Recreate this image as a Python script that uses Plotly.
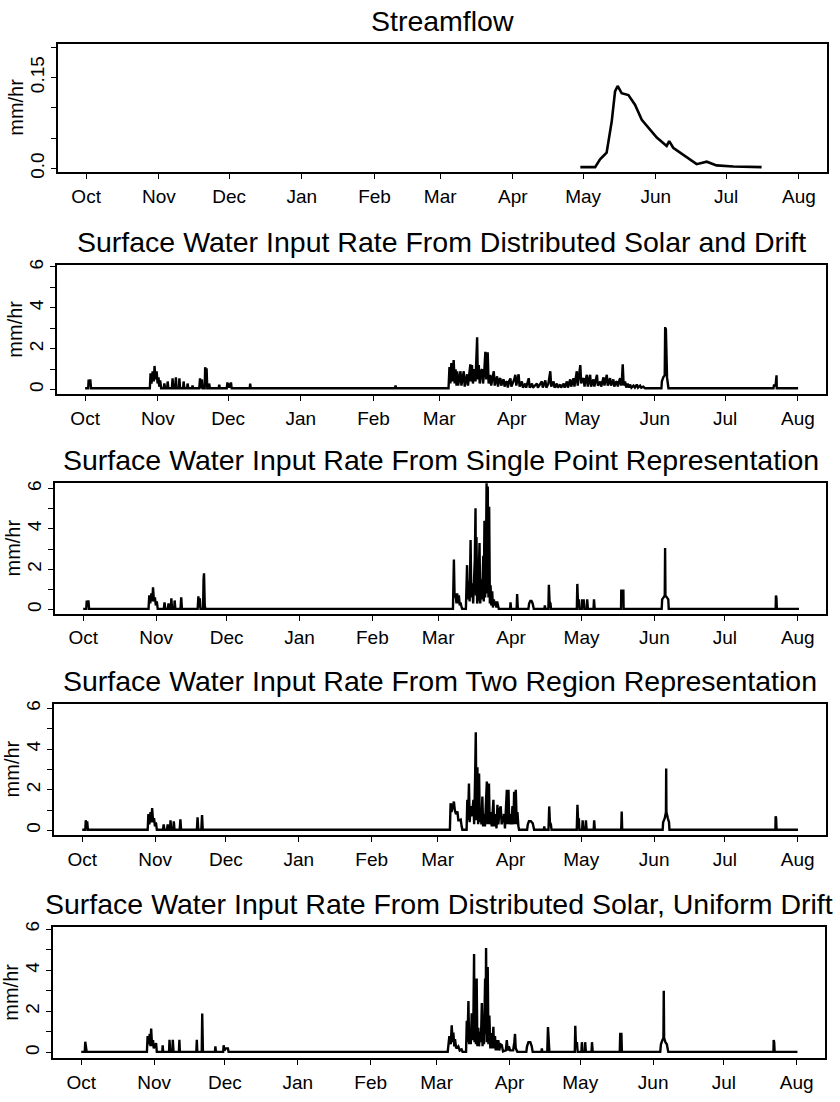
import plotly.graph_objects as go
import pandas as pd

# ---------------- data ----------------
month_labels = ["Oct", "Nov", "Dec", "Jan", "Feb", "Mar", "Apr", "May", "Jun", "Jul", "Aug"]
month_starts = ["1993-10-01", "1993-11-01", "1993-12-01", "1994-01-01", "1994-02-01",
                "1994-03-01", "1994-04-01", "1994-05-01", "1994-06-01", "1994-07-01",
                "1994-08-01"]
start_date = "1993-10-01"

panel_titles = [
    "Streamflow",
    "Surface Water Input Rate From Distributed Solar and Drift",
    "Surface Water Input Rate From Single Point Representation",
    "Surface Water Input Rate From Two Region Representation",
    "Surface Water Input Rate From Distributed Solar, Uniform Drift",
]
y_label = "mm/hr"

flow_ticks = [0, 0.05, 0.10, 0.15, 0.20]
flow_tick_text = ["0.0", "", "", "0.15", ""]
swi_ticks = [0, 1, 2, 3, 4, 5, 6]
swi_tick_text = ["0", "", "2", "", "4", "", "6"]

# day offsets from 1 Oct, and values (mm/hr)
flow_day = [210.8, 217.1, 219.2, 222.0, 224.2, 225.6, 226.7, 228.4, 231.3, 234.1, 237.0,
            240.5, 243.4, 247.6, 248.7, 250.4, 254.7, 260.4, 264.7, 268.9, 276.0, 288.1]
flow_rate = [0.002, 0.002, 0.015, 0.026, 0.078, 0.127, 0.136, 0.124, 0.121, 0.105, 0.080,
             0.064, 0.051, 0.037, 0.045, 0.034, 0.023, 0.007, 0.011, 0.005, 0.003, 0.002]

dist_day = [0, 1.3, 1.5, 1.9, 2.2, 2.5,
            27.6, 27.9, 28.3, 28.8, 29.3, 29.6, 30.0, 30.5, 30.9, 31.3, 31.6, 32.0, 32.4,
            33.5, 33.8, 34.1, 35.0, 35.2, 35.5, 37.0, 37.3, 37.6, 38.4, 38.7, 39.0,
            40.0, 40.2, 40.5, 41.8, 42.0, 42.3, 43.5, 43.7, 44.0, 45.6, 45.8, 46.1,
            48.7, 49.0, 49.4, 49.6, 49.8, 50.1, 51.0, 51.2, 51.5, 51.8, 52.1,
            52.7, 52.9, 53.2, 57.0, 57.2, 57.4, 60.4, 60.7, 61.0, 61.4, 61.8, 62.2, 62.5,
            70.2, 70.4, 70.6, 88.6, 88.8, 89.0, 132.2, 132.4, 132.6,
            155.0, 155.4, 155.8, 156.2, 156.6, 157.2, 157.6, 158.0, 158.4, 158.7, 159.1,
            159.6, 160.1, 160.5, 161.0, 161.5, 161.9, 162.4, 162.9, 163.3, 163.8, 164.3,
            164.6, 165.0, 165.4, 166.0, 166.5, 167.2, 167.5, 167.9, 168.3, 168.8, 169.3,
            169.7, 170.2, 170.7, 171.1, 171.7, 172.1, 172.8, 173.2, 173.8, 174.3, 174.7,
            175.2, 175.7, 176.1, 176.6, 177.1, 177.5, 178.0, 178.5, 178.9, 179.4, 179.9,
            180.3, 180.8, 181.4, 181.8, 182.4, 183.0, 183.5, 183.9, 184.4, 184.9, 185.3,
            185.8, 186.3, 186.7, 187.2, 187.7, 188.1, 188.7, 189.2, 189.6, 190.1, 190.6,
            191.0, 191.8, 192.7, 193.1, 193.8, 194.8, 195.2, 195.8, 196.3, 196.7, 197.6,
            198.4, 198.8, 199.3, 199.8, 200.2, 200.7, 201.2, 201.6, 202.1, 202.6, 203.0,
            203.6, 204.1, 204.5, 205.0, 205.5, 205.9, 206.4, 206.9, 207.3, 207.8, 208.3,
            208.7, 209.2, 209.7, 210.1, 210.6, 211.2, 211.6, 212.1, 212.6, 213.0, 213.5,
            214.0, 214.4, 214.9, 215.4, 215.8, 216.3, 216.8, 217.2, 217.8, 218.3, 218.7,
            219.2, 219.7, 220.1, 220.6, 221.1, 221.5, 222.0, 222.5, 222.9, 223.4, 223.9,
            224.3, 224.8, 225.3, 225.7, 226.3, 226.8, 227.2, 227.7, 228.2, 228.6, 229.0,
            229.3, 229.7, 230.3, 230.8, 231.4, 232.0, 232.4, 233.0, 233.9, 234.5, 235.3,
            235.8, 236.7, 237.2, 238.1, 238.8,
            245.8, 246.0, 246.6, 247.2, 247.4, 247.55, 247.7, 248.2, 248.6, 248.8,
            293.6, 293.8, 294.5, 294.6, 294.9, 295.0, 304.1]
dist_rate = [0.07, 0.07, 0.5, 0.3, 0.5, 0.07,
             0.07, 0.8, 0.3, 0.9, 0.4, 1.16, 0.5, 0.9, 0.3, 0.6, 0.15, 0.45, 0.07,
             0.07, 0.3, 0.07, 0.07, 0.4, 0.07, 0.07, 0.55, 0.07, 0.07, 0.6, 0.07,
             0.07, 0.55, 0.07, 0.07, 0.4, 0.07, 0.07, 0.3, 0.07, 0.07, 0.2, 0.07,
             0.07, 0.55, 0.07, 0.07, 0.5, 0.07, 0.07, 1.1, 0.3, 1.05, 0.07,
             0.07, 0.3, 0.07, 0.07, 0.25, 0.07, 0.07, 0.35, 0.1, 0.3, 0.1, 0.35, 0.07,
             0.07, 0.3, 0.07, 0.07, 0.1, 0.07, 0.07, 0.2, 0.07,
             0.07, 1.1, 0.3, 1.3, 0.4, 1.45, 0.3, 1.0, 0.2, 0.9, 0.2,
             0.7, 0.9, 0.2, 0.6, 0.9, 0.15, 0.5, 0.75, 0.2, 0.8, 1.24,
             0.4, 1.2, 0.3, 1.0, 0.4, 2.56, 0.5, 1.2, 0.3, 0.9, 1.0,
             0.3, 0.8, 1.85, 0.5, 1.83, 0.3, 0.73, 0.2, 0.6, 0.9, 0.2,
             0.5, 0.65, 0.15, 0.5, 0.56, 0.2, 0.4, 0.5, 0.15, 0.35, 0.4,
             0.1, 0.4, 0.55, 0.15, 0.3, 0.5, 0.73, 0.2, 0.5, 0.75, 0.15,
             0.3, 0.4, 0.1, 0.25, 0.3, 0.1, 0.4, 0.56, 0.1, 0.25, 0.3,
             0.1, 0.2, 0.3, 0.1, 0.25, 0.4, 0.1, 0.3, 0.45, 0.1, 0.3,
             0.9, 0.15, 0.3, 0.4, 0.1, 0.25, 0.3, 0.1, 0.2, 0.25, 0.1,
             0.2, 0.3, 0.1, 0.3, 0.4, 0.1, 0.35, 0.5, 0.15, 0.4, 0.56,
             0.15, 0.5, 0.9, 0.2, 0.6, 1.2, 0.3, 0.5, 0.56, 0.15, 0.5,
             0.73, 0.15, 0.5, 0.73, 0.15, 0.35, 0.5, 0.15, 0.5, 0.73, 0.2,
             0.3, 0.4, 0.15, 0.4, 0.6, 0.2, 0.5, 0.73, 0.2, 0.4, 0.56,
             0.2, 0.4, 0.5, 0.15, 0.35, 0.4, 0.15, 0.4, 0.56, 0.2, 0.6,
             1.24, 0.2, 0.4, 0.1, 0.3, 0.1, 0.25, 0.1, 0.2, 0.1, 0.25,
             0.1, 0.2, 0.1, 0.15, 0.07,
             0.07, 0.4, 0.6, 0.7, 3.06, 0.8, 3.0, 0.6, 0.3, 0.07,
             0.07, 0.2, 0.2, 0.7, 0.7, 0.07, 0.07]

single_day = [0, 1.3, 1.5, 1.9, 2.2, 2.5,
              27.8, 28.1, 28.5, 29.0, 29.4, 29.7, 30.1, 30.5, 30.9, 31.3, 31.7,
              34.3, 34.6, 34.9, 36.0, 36.3, 36.6, 37.3, 37.5, 37.8, 38.7, 38.9, 39.2,
              41.4, 41.7, 42.0, 48.7, 49.0, 49.3, 49.6, 49.9, 51.0, 51.2, 51.4, 51.7, 52.0,
              157.3, 157.7, 158.0, 158.4, 158.8, 159.1, 159.5, 159.8, 160.2, 160.5, 161.0,
              161.2, 162.8, 163.0, 163.3, 163.6, 164.0, 164.4, 164.8, 165.1, 165.5, 165.9,
              166.2, 166.6, 166.9, 167.1, 167.3, 167.6, 167.9, 168.2, 168.6, 168.9, 169.3,
              169.7, 170.2, 170.4, 170.7, 171.0, 171.3, 171.6, 171.9, 172.1, 172.4, 172.7,
              173.0, 173.3, 173.6, 174.0, 174.3, 174.7, 175.0, 175.4, 175.8, 176.1, 176.5,
              176.8, 181.6, 181.8, 182.0, 184.4, 184.6, 184.9, 189.4, 189.7, 190.2, 190.7,
              191.2, 191.7, 196.2, 196.4, 196.6, 197.9, 198.1, 198.4, 198.8, 199.0,
              210.0, 210.2, 210.5, 210.9, 211.1, 212.1, 212.3, 212.6, 212.9, 213.2,
              214.2, 214.4, 214.7, 217.1, 217.3, 217.6, 228.8, 228.9, 229.8, 229.9,
              246.1, 246.3, 246.9, 247.4, 247.55, 247.7, 248.3, 248.9, 249.1,
              294.6, 294.7, 294.9, 295.1, 304.5]
single_rate = [0.03, 0.03, 0.45, 0.2, 0.45, 0.03,
               0.03, 0.7, 0.3, 0.8, 0.4, 1.1, 0.4, 0.6, 0.2, 0.4, 0.03,
               0.03, 0.35, 0.03, 0.03, 0.3, 0.03, 0.03, 0.55, 0.03, 0.03, 0.45, 0.03,
               0.03, 0.6, 0.03, 0.03, 0.65, 0.1, 0.55, 0.03, 0.03, 1.5, 1.8, 0.2, 0.03,
               0.03, 2.48, 0.6, 0.8, 0.3, 0.8, 0.3, 0.7, 0.2, 0.35, 0.1,
               0.03, 0.03, 1.2, 2.2, 0.5, 1.4, 0.4, 3.45, 0.6, 1.3, 0.3,
               1.3, 2.5, 5.02, 0.7, 3.6, 0.3, 0.5, 1.5, 3.3, 0.3, 1.5,
               0.5, 2.66, 0.4, 4.4, 0.6, 2.0, 6.3, 0.8, 6.1, 0.6, 5.1,
               0.3, 1.2, 0.2, 0.9, 0.1, 0.5, 0.2, 0.4, 0.1, 0.4, 0.05,
               0.03, 0.03, 0.35, 0.03, 0.03, 0.77, 0.03, 0.03, 0.3, 0.43, 0.43,
               0.3, 0.03, 0.03, 0.2, 0.03, 0.03, 1.23, 0.4, 0.3, 0.03,
               0.03, 1.27, 0.3, 0.5, 0.03, 0.03, 0.5, 0.2, 0.5, 0.03,
               0.03, 0.5, 0.03, 0.03, 0.5, 0.03, 0.03, 0.93, 0.93, 0.03,
               0.03, 0.5, 0.6, 0.7, 3.05, 0.7, 0.6, 0.5, 0.03,
               0.03, 0.7, 0.6, 0.03, 0.03]

two_day = [0, 1.3, 1.5, 1.8, 2.1, 2.4,
           27.8, 28.1, 28.5, 29.0, 29.4, 29.7, 30.1, 30.5, 30.9, 31.3, 31.7,
           34.3, 34.6, 34.9, 36.0, 36.3, 36.6, 37.3, 37.5, 37.8, 38.7, 38.9, 39.2,
           41.4, 41.7, 42.0, 48.7, 49.0, 49.3, 50.6, 50.9, 51.2,
           156.2, 156.5, 156.9, 157.3, 157.9, 158.3, 158.8, 159.4, 159.8, 160.3, 160.8,
           161.2, 161.5, 163.3, 163.6, 163.9, 164.3, 164.6, 165.0, 165.3, 165.8, 166.2,
           166.5, 166.9, 167.2, 167.5, 167.9, 168.2, 168.6, 168.9, 169.3, 169.6, 170.0,
           170.3, 170.7, 171.1, 171.5, 171.9, 172.2, 172.5, 172.8, 173.1, 173.6, 174.0,
           174.4, 174.7, 175.0, 175.4, 175.7, 176.0, 176.4, 176.8, 177.3, 177.8, 178.2,
           178.7, 179.2, 179.6, 180.0, 180.4, 180.7, 181.1, 181.4, 181.8, 182.3, 182.8,
           183.2, 183.5, 183.8, 184.2, 184.6, 184.9, 185.3, 185.6,
           189.0, 189.3, 189.8, 190.6, 191.4, 192.0, 196.1, 196.3, 196.5,
           198.1, 198.4, 198.7, 199.1, 199.4, 210.1, 210.4, 210.7, 211.0, 211.2,
           212.4, 212.6, 212.9, 213.8, 214.0, 214.3, 217.3, 217.5, 217.8,
           229.0, 229.2, 229.4, 246.6, 246.8, 247.5, 248.0, 248.1, 248.2, 248.8, 249.3, 249.5,
           294.5, 294.6, 294.8, 295.0, 304.1]
two_rate = [0.03, 0.03, 0.5, 0.2, 0.45, 0.03,
            0.03, 0.8, 0.3, 0.9, 0.4, 1.1, 0.4, 0.6, 0.2, 0.4, 0.03,
            0.03, 0.3, 0.03, 0.03, 0.3, 0.03, 0.03, 0.5, 0.03, 0.03, 0.45, 0.03,
            0.03, 0.55, 0.03, 0.03, 0.65, 0.03, 0.03, 0.75, 0.03,
            0.03, 1.34, 0.9, 1.2, 1.42, 1.0, 0.8, 0.93, 0.5, 0.5, 0.53,
            0.2, 0.03, 0.03, 1.5, 0.5, 2.3, 0.4, 1.2, 0.7, 1.0, 1.5,
            0.3, 2.5, 4.82, 0.5, 3.1, 0.3, 2.8, 0.4, 1.0, 0.3, 1.67,
            0.2, 0.8, 0.2, 1.3, 2.4, 0.3, 1.5, 2.3, 0.3, 0.9, 0.2,
            0.9, 1.5, 0.2, 0.6, 0.8, 0.1, 1.26, 0.3, 1.0, 1.18, 0.3,
            0.6, 0.8, 0.1, 0.9, 2.0, 0.3, 2.0, 0.3, 0.8, 0.3, 1.2,
            0.3, 1.9, 0.3, 2.0, 0.3, 0.9, 0.2, 0.03,
            0.03, 0.3, 0.45, 0.45, 0.35, 0.03, 0.03, 0.2, 0.03,
            0.03, 1.18, 0.4, 0.3, 0.03, 0.03, 1.26, 0.4, 0.6, 0.03,
            0.03, 0.5, 0.03, 0.03, 0.5, 0.03, 0.03, 0.5, 0.03,
            0.03, 0.93, 0.03, 0.03, 0.4, 0.6, 0.9, 3.04, 0.9, 0.6, 0.4, 0.03,
            0.03, 0.7, 0.6, 0.03, 0.03]

uniform_day = [0, 1.5, 1.7, 2.0, 2.3,
               27.9, 28.2, 28.6, 29.1, 29.4, 29.7, 30.1, 30.5, 30.8, 31.2, 31.8, 32.1,
               34.4, 34.6, 34.8, 37.3, 37.5, 37.8, 38.7, 38.9, 39.2, 41.5, 41.7, 41.9,
               48.9, 49.1, 49.3, 51.2, 51.4, 51.7, 56.8, 57.0, 57.2,
               60.3, 60.5, 60.8, 61.5, 62.3, 62.6,
               155.7, 155.9, 156.4, 157.0, 157.4, 157.8, 158.1, 158.5, 158.8, 159.3, 160.2,
               160.8, 161.6, 162.0, 163.5, 163.8, 164.1, 164.5, 164.8, 165.2, 165.5, 165.9,
               166.2, 166.6, 166.9, 167.1, 167.4, 167.7, 168.0, 168.3, 168.7, 169.0, 169.4,
               169.8, 170.2, 170.5, 170.8, 171.1, 171.6, 171.8, 172.0, 172.3, 172.7, 173.0,
               173.4, 173.8, 174.4, 174.7, 175.1, 175.4, 175.8, 176.1, 176.5, 176.9, 177.2,
               177.6, 178.1, 178.7, 179.2, 180.4, 180.8, 181.2, 181.7, 182.2, 183.5, 184.0,
               184.3, 184.6, 185.0, 185.3,
               189.1, 189.4, 190.0, 190.8, 191.4, 191.8, 195.5, 195.7, 195.9,
               198.0, 198.3, 198.6, 198.9, 209.7, 209.9, 210.2, 210.6, 210.9,
               212.5, 212.7, 213.0, 214.0, 214.1, 214.4, 216.8, 217.0, 217.3,
               228.8, 229.0, 229.5, 229.7, 246.0, 246.3, 246.9, 247.35, 247.5, 247.65, 248.2,
               248.8, 249.4, 294.1, 294.2, 294.4, 294.6, 304.3]
uniform_rate = [0.03, 0.03, 0.52, 0.2, 0.03,
                0.03, 0.8, 0.4, 0.9, 0.3, 1.16, 0.3, 0.6, 0.2, 0.3, 0.45, 0.03,
                0.03, 0.35, 0.03, 0.03, 0.62, 0.03, 0.03, 0.62, 0.03, 0.03, 0.62, 0.03,
                0.03, 0.62, 0.03, 0.03, 1.89, 0.03, 0.03, 0.3, 0.03,
                0.03, 0.35, 0.1, 0.2, 0.2, 0.03,
                0.03, 0.4, 0.8, 0.4, 1.32, 0.5, 0.97, 0.3, 0.65, 0.2, 0.3,
                0.1, 0.15, 0.03, 0.03, 1.54, 0.5, 2.5, 0.4, 1.0, 0.4, 1.9,
                0.6, 1.5, 4.79, 0.5, 2.8, 0.4, 3.6, 0.3, 1.2, 0.3, 1.0,
                0.5, 2.4, 0.3, 1.3, 0.4, 3.6, 0.9, 5.08, 0.5, 4.15, 0.4,
                1.8, 0.2, 0.95, 0.2, 1.25, 0.2, 0.8, 0.1, 0.6, 0.1, 0.6,
                0.1, 0.4, 0.35, 0.05, 0.1, 0.6, 0.1, 0.3, 0.1, 0.1, 0.5,
                0.9, 0.2, 0.1, 0.03,
                0.03, 0.3, 0.5, 0.5, 0.3, 0.03, 0.03, 0.2, 0.03,
                0.03, 1.24, 0.4, 0.03, 0.03, 1.3, 0.3, 0.5, 0.03,
                0.03, 0.5, 0.03, 0.03, 0.5, 0.03, 0.03, 0.5, 0.03,
                0.03, 0.9, 0.9, 0.03, 0.03, 0.4, 0.6, 0.7, 3.0, 0.7, 0.5,
                0.4, 0.03, 0.03, 0.6, 0.5, 0.03, 0.03]

# ---------------- figure ----------------
W, H = 840, 1102
FONT = "Liberation Sans, Arial, Helvetica, sans-serif"
base = pd.Timestamp(start_date)


def to_dates(days):
    return base + pd.to_timedelta(days, unit="D")


series = [(flow_day, flow_rate), (dist_day, dist_rate), (single_day, single_rate),
          (two_day, two_rate), (uniform_day, uniform_rate)]

# panel boxes in pixels: left, right, top, bottom
boxes = [(58, 827, 38, 168), (57, 826, 262, 393), (55, 826, 483, 615),
         (54, 826, 706, 839), (53, 825, 932, 1065)]
yranges = [(-0.006, 0.206), (-0.23, 6.10), (-0.21, 6.26), (-0.23, 6.23), (-0.29, 6.10)]

x_range = [base - pd.Timedelta(days=12), base + pd.Timedelta(days=316)]

fig = go.Figure()
annotations = []
for i, ((d, v), (l, r, t, b)) in enumerate(zip(series, boxes)):
    n = "" if i == 0 else str(i + 1)
    fig.add_trace(go.Scatter(
        x=to_dates(d), y=v, mode="lines",
        line=dict(color="black", width=2.6 if i == 0 else 2.4),
        xaxis="x" + n, yaxis="y" + n, showlegend=False, hoverinfo="x+y"))
    xd = [l / W, r / W]
    yd = [1 - b / H, 1 - t / H]
    if i == 0:
        tv, tt = flow_ticks, flow_tick_text
    else:
        tv, tt = swi_ticks, swi_tick_text
    fig.update_layout(**{
        "xaxis" + n: dict(
            domain=xd, anchor="y" + n, range=x_range, type="date",
            tickvals=month_starts, ticktext=month_labels,
            ticks="outside", ticklen=5, tickwidth=1.3, tickcolor="black",
            showline=True, mirror=True, linecolor="black", linewidth=1.8,
            showgrid=False, zeroline=False,
            tickfont=dict(family=FONT, size=19, color="black"),
            ticklabelstandoff=1),
        "yaxis" + n: dict(
            domain=yd, anchor="x" + n, range=list(yranges[i]),
            tickvals=tv, ticktext=tt, tickangle=-90,
            ticks="outside", ticklen=5, tickwidth=1.3, tickcolor="black",
            showline=True, mirror=True, linecolor="black", linewidth=1.8,
            showgrid=False, zeroline=False,
            tickfont=dict(family=FONT, size=19, color="black")),
    })
    annotations.append(dict(
        text=panel_titles[i], xref="paper", yref="paper",
        x=(l + r) / 2 / W, y=1 - t / H, xanchor="center", yanchor="bottom",
        yshift=5, showarrow=False,
        font=dict(family=FONT, size=28.5, color="black")))
    annotations.append(dict(
        text=y_label, xref="paper", yref="paper",
        x=(l - 42) / W, y=1 - (t + b) / 2 / H, xanchor="center", yanchor="middle",
        textangle=-90, showarrow=False,
        font=dict(family=FONT, size=20, color="black")))

fig.update_layout(
    width=W, height=H, margin=dict(l=0, r=0, t=0, b=0),
    paper_bgcolor="white", plot_bgcolor="white",
    annotations=annotations, showlegend=False,
)

fig.write_html("out.html")
